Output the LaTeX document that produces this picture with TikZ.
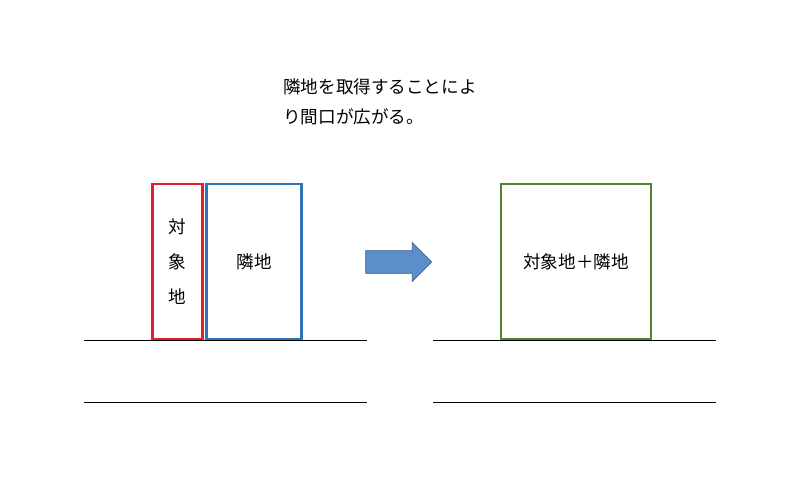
\documentclass[tikz,border=0pt]{standalone}
\usepackage{fontspec}
\setmainfont{Noto Sans CJK JP}
\usetikzlibrary{shapes.arrows}
\definecolor{lotred}{HTML}{E0202A}
\definecolor{lotblue}{HTML}{2E75B6}
\definecolor{lotgreen}{HTML}{548235}
\definecolor{arrowfill}{HTML}{5B8FCB}
\definecolor{arrowline}{HTML}{3A5F8A}
\begin{document}
\begin{tikzpicture}[x=0.02cm, y=-0.02cm,
	lot/.style={draw, line width=1.4pt, inner sep=0pt, font=\fontsize{10}{12}\selectfont},
	txt/.style={font=\fontsize{10}{12}\selectfont, inner sep=0pt, anchor=west}]
	\useasboundingbox (0, 0) rectangle (800, 496);
	
	\node[txt] (line-1) at (283, 87) {隣地を取得することによ};
	\node[txt] (line-2) at (283, 117) {り間口が広がる。};
	
	\node[lot, lotred, text=black, minimum width=1.0cm, minimum height=3.1cm, align=center] (target) at (177.5, 261.5) {対\\[8pt]象\\[8pt]地};
	\node[lot, lotblue, text=black, minimum width=1.9cm, minimum height=3.1cm] (neighbour) at (254, 261.5) {隣地};
	
	\node[single arrow, draw=arrowline, fill=arrowfill, inner xsep=0pt, inner ysep=0.22cm, single arrow head extend=0.16cm, minimum height=1.32cm] (arrow) at (393, 262) {};
	
	\node[lot, lotgreen, text=black, minimum width=3.0cm, minimum height=3.1cm] (merged) at (576, 261.5) {対象地＋隣地};
	
	\draw (84, 340) -- (367, 340);
	\draw (84, 402) -- (367, 402);
	\draw (433, 340) -- (716, 340);
	\draw (433, 402) -- (716, 402);
\end{tikzpicture}
\end{document}
